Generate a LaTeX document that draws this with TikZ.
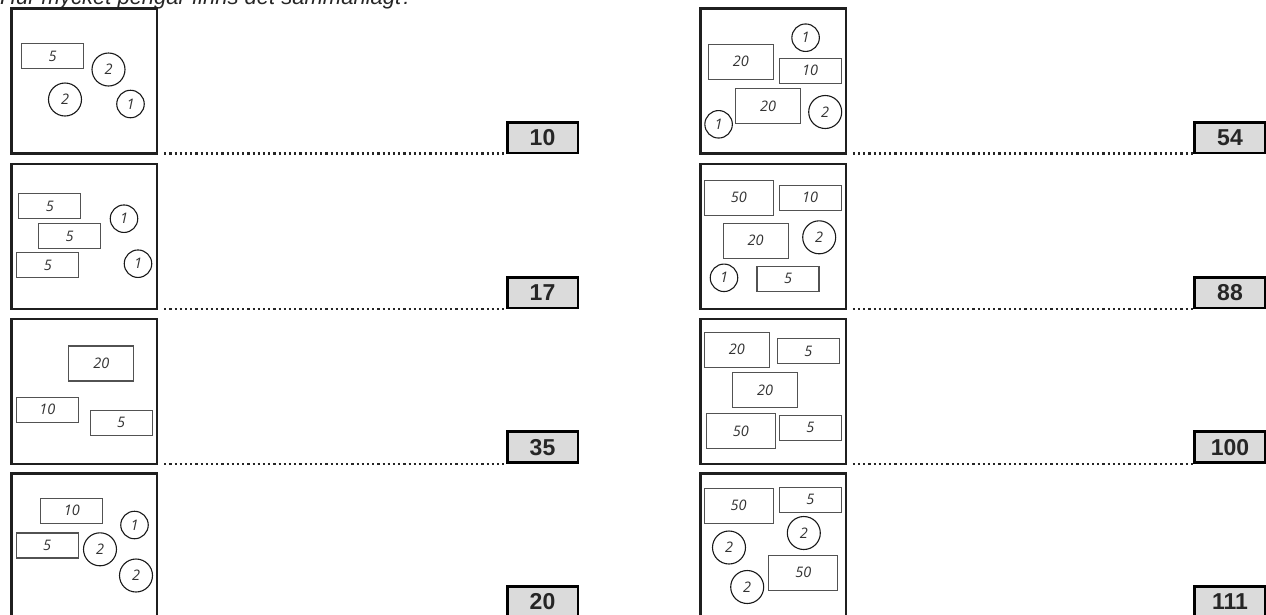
\documentclass[tikz,border=0pt]{standalone}
\usepackage{fontspec}
\setmainfont{Liberation Sans}
\newfontfamily\coinfont{Open Sans}
\begin{document}
\begin{tikzpicture}[x=1pt,y=-1pt,
  frame/.style={draw=black!88, line width=2.6pt, minimum width=145.6pt, minimum height=145pt, anchor=north west, inner sep=0pt, outer sep=0pt},
  bill/.style={draw=black!68, line width=1.1pt, fill=white, font=\coinfont\itshape\fontsize{14.5}{14.5}\selectfont, text=black!80, inner sep=0pt},
  billS/.style={bill, minimum width=62pt, minimum height=25pt},
  billM/.style={bill, minimum width=65pt, minimum height=35pt},
  billL/.style={bill, minimum width=69pt, minimum height=35pt},
  coin/.style={circle, draw=black!90, line width=1.1pt, fill=white, font=\coinfont\itshape\fontsize{14.5}{14.5}\selectfont, text=black!80, inner sep=0pt},
  coinB/.style={coin, minimum size=33pt},
  coinA/.style={coin, minimum size=27.5pt},
  ansbox/.style={draw=black, line width=2.8pt, fill=black!14, minimum width=70.8pt, minimum height=30.8pt, font=\bfseries\fontsize{23}{23}\selectfont, text=black!85, inner sep=0pt},
  dotline/.style={line width=2.4pt, dash pattern=on 2.2pt off 3pt, black!85}
]
\useasboundingbox (0,0) rectangle (1266,614);
\clip (0,0) rectangle (1266,614);

% title (cut off at the top, as in the reference)
\node[anchor=base west, inner sep=0pt, font=\itshape\fontsize{22}{22}\selectfont, text=black!85] (title) at (0,4) {Hur mycket pengar finns det sammanlagt?};

% frames
\node[frame] (f1) at (11.5,8.5) {};
\node[frame] (f2) at (11.5,163.9) {};
\node[frame] (f3) at (11.5,318.9) {};
\node[frame] (f4) at (11.5,473.2) {};
\node[frame] (g1) at (700.2,8.5) {};
\node[frame] (g2) at (700.2,163.9) {};
\node[frame] (g3) at (700.2,318.9) {};
\node[frame] (g4) at (700.2,473.2) {};

% answer boxes
\node[ansbox] (a1) at (542.5,137.5) {10};
\node[ansbox] (a2) at (542.5,292.5) {17};
\node[ansbox] (a3) at (542.5,447.2) {35};
\node[ansbox] (a4) at (542.5,601.5) {20};
\node[ansbox] (b1) at (1230,137.5) {54};
\node[ansbox] (b2) at (1230,292.5) {88};
\node[ansbox] (b3) at (1230,447.2) {100};
\node[ansbox] (b4) at (1230,601.5) {111};

% dotted lines
\foreach \f/\a in {f1/a1,f2/a2,f3/a3,f4/a4,g1/b1,g2/b2,g3/b3,g4/b4}{
  \draw[dotline] ([xshift=7pt]\f.south east) -- (\f.south east -| \a.west);
}

% left frame 1
\node[billS] (l1a) at (52.5,56) {5};
\node[coinB] (l1b) at (108.5,69.5) {2};
\node[coinB] (l1c) at (65,99.5) {2};
\node[coinA] (l1d) at (130.5,104) {1};

% left frame 2
\node[billS] (l2a) at (49.8,206) {5};
\node[billS] (l2b) at (69.7,236) {5};
\node[billS] (l2c) at (47.9,265.3) {5};
\node[coinA] (l2d) at (124,218.7) {1};
\node[coinA] (l2e) at (138,263.7) {1};

% left frame 3
\node[billM] (l3a) at (101.4,363.5) {20};
\node[billS] (l3b) at (47.4,409.7) {10};
\node[billS] (l3c) at (121.2,422.8) {5};

% left frame 4
\node[billS] (l4a) at (71.8,510.8) {10};
\node[billS] (l4b) at (47.1,545.5) {5};
\node[coinB] (l4c) at (100,549.3) {2};
\node[coinA] (l4d) at (134.5,525) {1};
\node[coinB] (l4e) at (136,575.5) {2};

% right frame 1
\node[coinA] (r1a) at (805.6,37.7) {1};
\node[billM] (r1b) at (740.8,61.7) {20};
\node[billS] (r1c) at (810.2,70.8) {10};
\node[billM] (r1d) at (768.2,106) {20};
\node[coinB] (r1e) at (825.2,112) {2};
\node[coinA] (r1f) at (718.6,124.3) {1};

% right frame 2
\node[billL] (r2a) at (738.8,197.8) {50};
\node[billS] (r2b) at (810.2,197.7) {10};
\node[billM] (r2c) at (755.6,240.7) {20};
\node[coinB] (r2d) at (819.2,237.3) {2};
\node[coinA] (r2e) at (724,277.8) {1};
\node[billS] (r2f) at (788,278.7) {5};

% right frame 3
\node[billM] (r3a) at (736.8,349.7) {20};
\node[billS] (r3b) at (808.4,351.3) {5};
\node[billM] (r3c) at (765.2,390.3) {20};
\node[billL] (r3d) at (740.8,431) {50};
\node[billS] (r3e) at (810.4,427.7) {5};

% right frame 4
\node[billL] (r4a) at (738.6,505.8) {50};
\node[billS] (r4b) at (810.4,499.8) {5};
\node[coinB] (r4c) at (803.8,533) {2};
\node[coinB] (r4d) at (729,547.5) {2};
\node[billL] (r4e) at (803.4,572.7) {50};
\node[coinB] (r4f) at (747.2,587) {2};
\end{tikzpicture}
\end{document}
